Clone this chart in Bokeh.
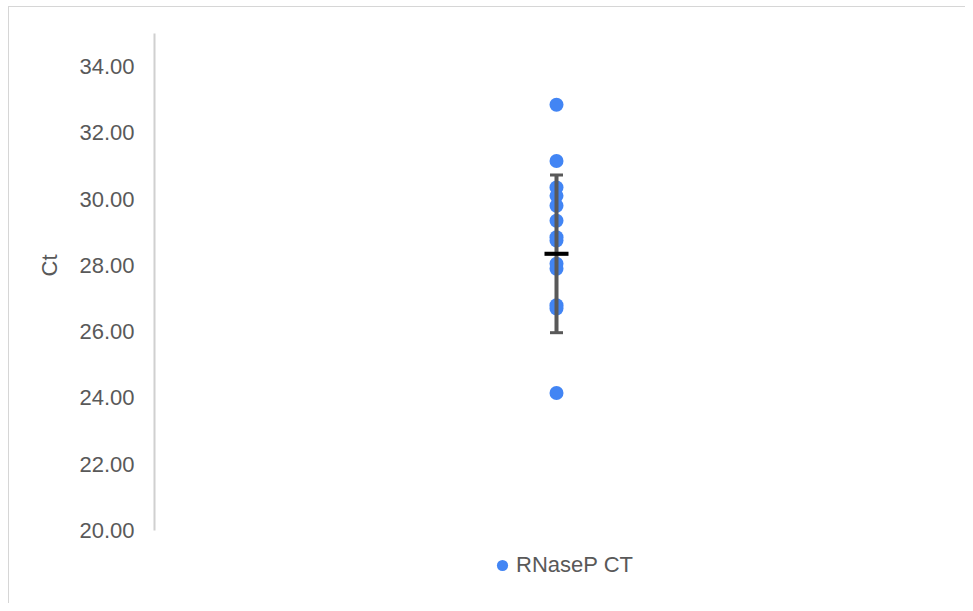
from bokeh.plotting import figure
from bokeh.models import (FactorRange, Range1d, FixedTicker, NumeralTickFormatter, Legend,
                          LegendItem, ColumnDataSource, Title)
from bokeh.embed import file_html
from bokeh.resources import INLINE

# ---- data ----
category = ["RNaseP CT"]
ct_values = [32.85, 31.15, 30.35, 30.1, 29.8, 29.35, 28.85, 28.75, 28.05, 27.9, 26.8, 26.7, 24.15]
mean_ct = [28.35]
sd_ct = [2.38]
y_ticks = [20, 22, 24, 26, 28, 30, 32, 34]
y_min, y_max = 20, 35

series_name = "RNaseP CT"
y_title = "Ct"
point_color = "#4285F4"
text_color = "#595959"
font = "Liberation Sans"

# layout: axis spans 497 px for y_min..y_max; frame extends below to hold the legend
axis_px = 497
frame_h = 567
px_per_unit = axis_px / (y_max - y_min)
range_bottom = y_max - frame_h / px_per_unit

p = figure(
    x_range=FactorRange(*category),
    y_range=Range1d(range_bottom, y_max),
    x_axis_location=None,
    frame_width=804, frame_height=frame_h,
    min_border_left=145, min_border_top=26, min_border_right=7, min_border_bottom=3,
    output_backend="svg", toolbar_location=None,
)
p.styles = {"border-top": "1px solid #d6d6d6", "border-left": "1px solid #d6d6d6",
            "margin-left": "8px", "margin-top": "6px"}

pts = ColumnDataSource(dict(x=category * len(ct_values), y=ct_values))
r_pts = p.scatter("x", "y", source=pts, size=14, color=point_color, line_color=None)

eb = ColumnDataSource(dict(
    x=category,
    mean=mean_ct,
    lo=[m - s for m, s in zip(mean_ct, sd_ct)],
    hi=[m + s for m, s in zip(mean_ct, sd_ct)],
))
p.segment(x0="x", y0="lo", x1="x", y1="hi", source=eb, line_color=text_color, line_width=4)
p.scatter("x", "lo", source=eb, marker="dash", size=13, line_color=text_color, line_width=3)
p.scatter("x", "hi", source=eb, marker="dash", size=13, line_color=text_color, line_width=3)
p.scatter("x", "mean", source=eb, marker="dash", size=24, line_color="black", line_width=4)

p.xgrid.visible = False
p.ygrid.visible = False
p.outline_line_color = None

ya = p.yaxis[0]
ya.bounds = (y_min, y_max)
ya.ticker = FixedTicker(ticks=y_ticks)
ya.formatter = NumeralTickFormatter(format="0.00")
ya.major_tick_line_color = None
ya.minor_tick_line_color = None
ya.major_tick_out = 0
ya.major_tick_in = 0
ya.major_label_standoff = 20
ya.major_label_text_font = font
ya.major_label_text_font_size = "22px"
ya.major_label_text_color = text_color
ya.axis_line_color = "#d0d0d0"
ya.axis_line_width = 2

t = Title(text=y_title, align="right", offset=221, vertical_align="top", standoff=25,
          text_font=font, text_font_size="22px", text_font_style="normal", text_color=text_color)
p.add_layout(t, "left")

legend = Legend(items=[LegendItem(label=series_name, renderers=[r_pts])],
                orientation="horizontal", location=(334, 21))
legend.label_text_font = font
legend.label_text_font_size = "22px"
legend.label_text_color = text_color
legend.border_line_color = None
legend.background_fill_alpha = 0
legend.margin = 0
legend.padding = 5
legend.glyph_width = 28
legend.glyph_height = 28
legend.label_standoff = 0
p.add_layout(legend, "center")

open("out.html", "w").write(file_html(p, INLINE))
